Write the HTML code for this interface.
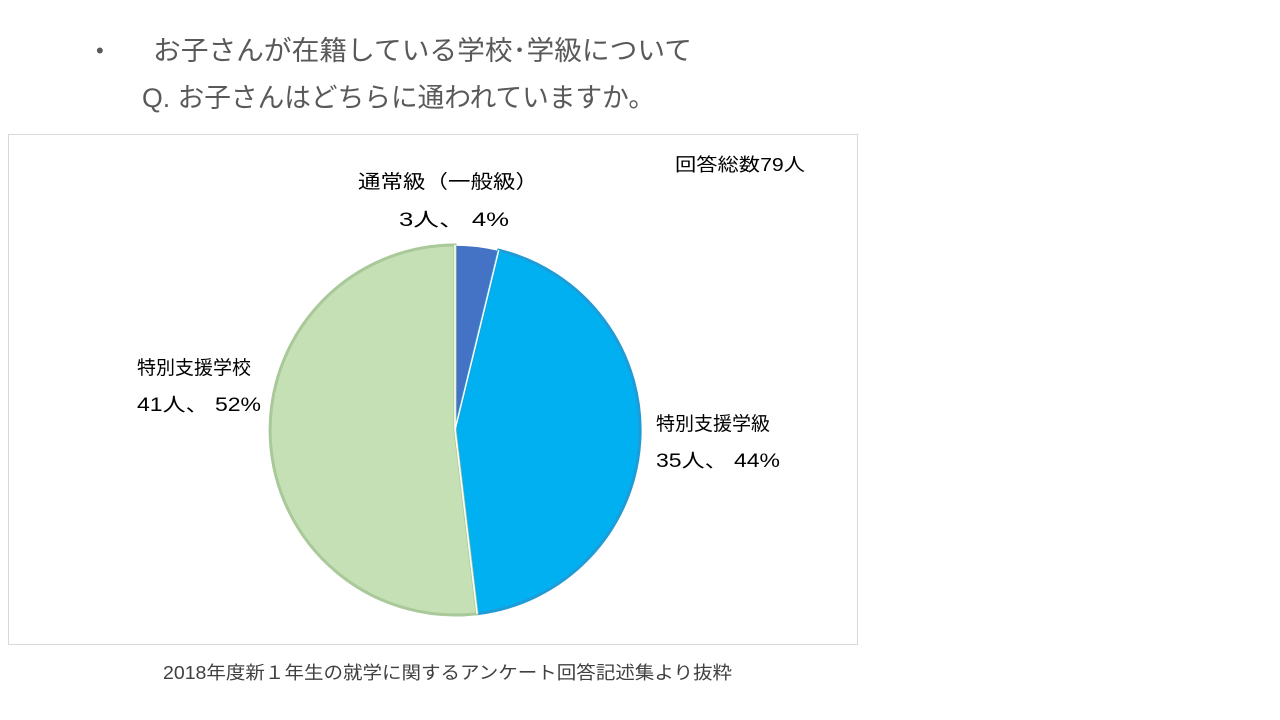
<!DOCTYPE html>
<html><head><meta charset="utf-8"><style>
body{margin:0;width:1280px;height:720px;background:#fff;overflow:hidden;font-family:"Liberation Sans","Noto Sans CJK JP",sans-serif;}
</style></head><body>
<svg width="1280" height="720" xmlns="http://www.w3.org/2000/svg" style="position:absolute;left:0;top:0;font-family:'Liberation Sans','Noto Sans CJK JP',sans-serif">
<text x="96" y="58" font-size="22" fill="#595959">•</text>
<text x="153" y="60" font-size="27" fill="#595959" textLength="539" lengthAdjust="spacingAndGlyphs">お子さんが在籍している学校･学級について</text>
<text x="142" y="107" font-size="27" fill="#595959" textLength="513" lengthAdjust="spacingAndGlyphs">Q.  お子さんはどちらに通われていますか。</text>
<rect x="8.5" y="134.5" width="849" height="510" fill="#fff" stroke="#d9d9d9"/>
<path d="M455,430 L455,245 A185,185 0 0 1 498.7,250.2 Z" fill="#4472C4" stroke="#fff" stroke-width="1.5"/>
<path d="M455,430 L498.7,250.2 A185,185 0 0 1 477,613.7 Z" fill="#00B0F0" stroke="#1f9bd7" stroke-width="3"/>
<path d="M455,430 L477,613.7 A185,185 0 1 1 455,245 Z" fill="#C5E0B4" stroke="#a9c99a" stroke-width="3"/>
<line x1="455" y1="430" x2="455" y2="245" stroke="#fff" stroke-width="1.5"/>
<line x1="455" y1="430" x2="498.7" y2="250.2" stroke="#fff" stroke-width="1.5"/>
<line x1="455" y1="430" x2="477" y2="613.7" stroke="#fff" stroke-width="1.5"/>
<g font-size="19" fill="#000">
<text x="358" y="188" textLength="180" lengthAdjust="spacingAndGlyphs">通常級（一般級）</text>
<text x="399" y="226" textLength="110" lengthAdjust="spacingAndGlyphs">3人、 4%</text>
<text x="675" y="171" font-size="18" textLength="130" lengthAdjust="spacingAndGlyphs">回答総数79人</text>
<text x="137" y="374">特別支援学校</text>
<text x="137" y="411" textLength="124" lengthAdjust="spacingAndGlyphs">41人、 52%</text>
<text x="656" y="430">特別支援学級</text>
<text x="656" y="467" textLength="124" lengthAdjust="spacingAndGlyphs">35人、 44%</text>
</g>
<text x="163" y="679" font-size="18" fill="#404040" textLength="569" lengthAdjust="spacingAndGlyphs">2018年度新１年生の就学に関するアンケート回答記述集より抜粋</text>
</svg>
</body></html>
